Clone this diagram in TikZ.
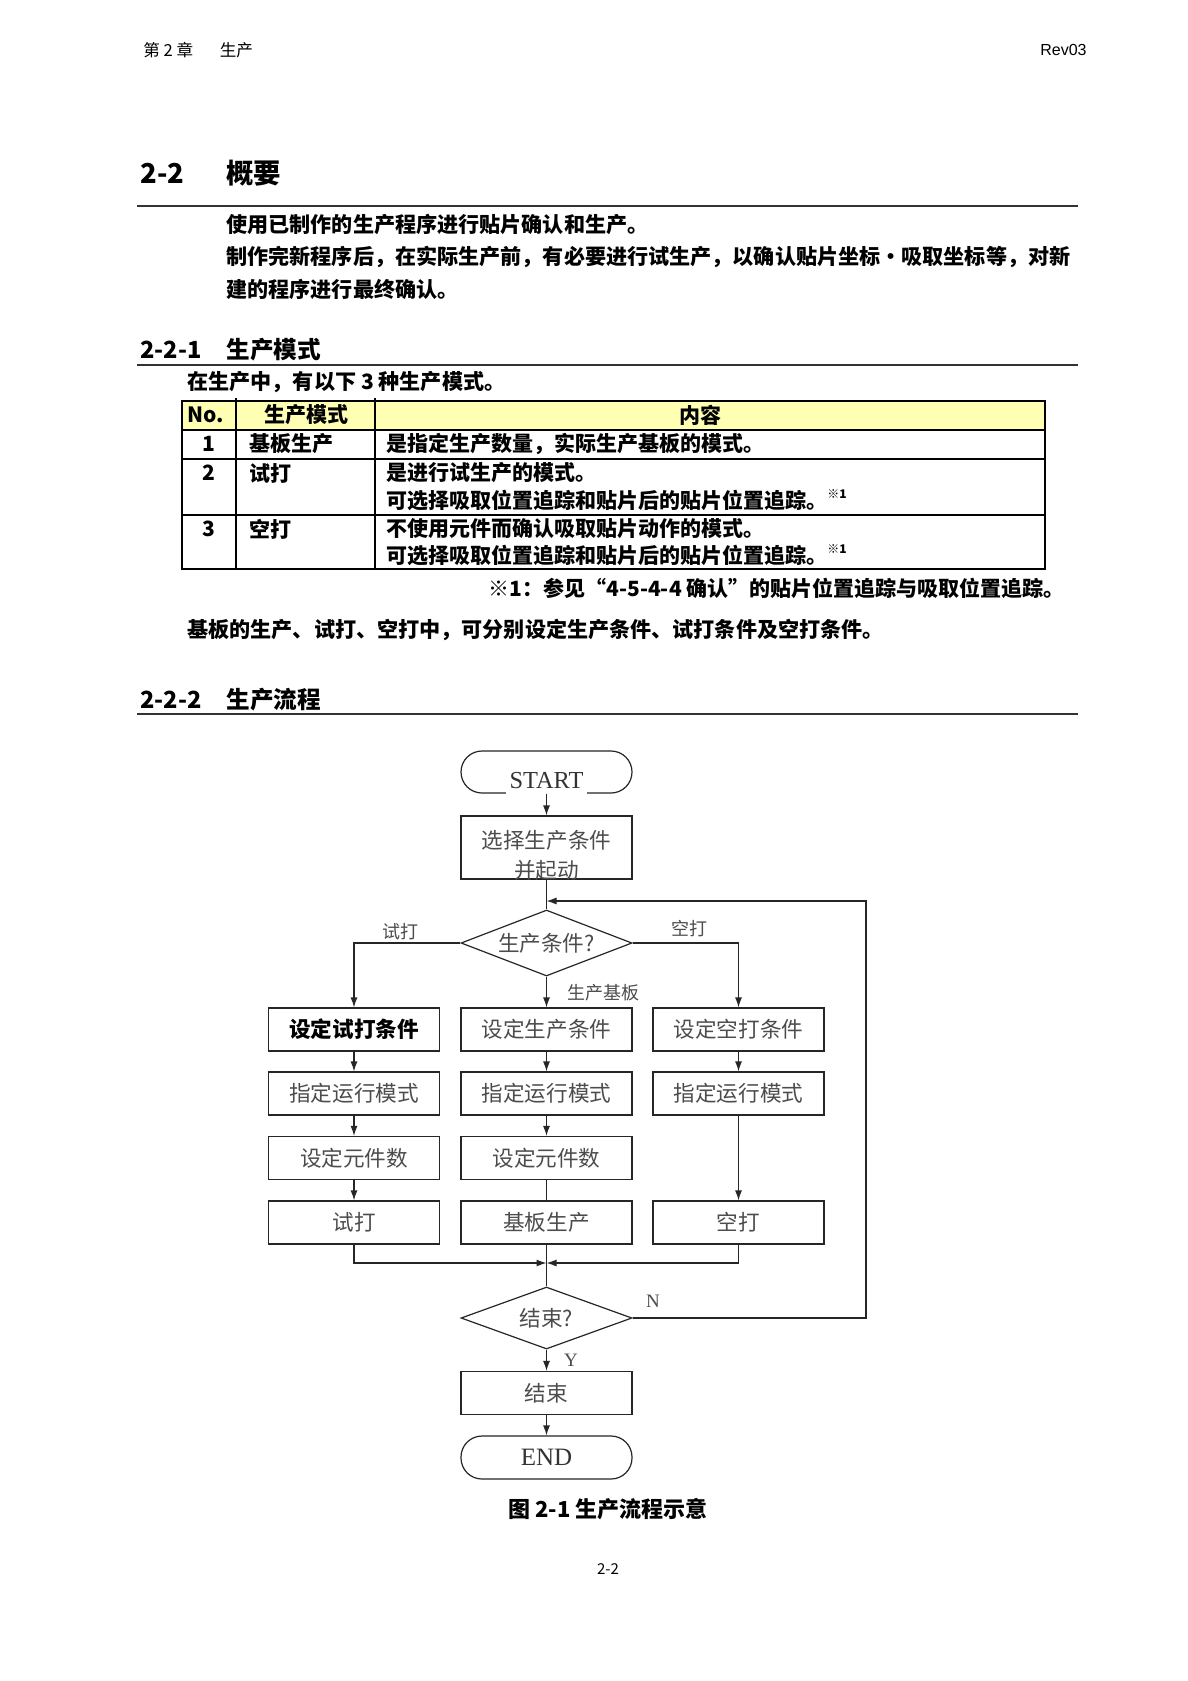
\documentclass[tikz,border=0pt]{standalone}
\usepackage{fontspec}
\setmainfont{Noto Sans CJK SC}
\newfontfamily\serifen{Liberation Serif}
\newfontfamily\sansen{Liberation Sans}
\usetikzlibrary{arrows.meta,shapes.geometric}
\definecolor{hdryellow}{HTML}{FFFFB4}
\begin{document}
\begin{tikzpicture}[x=0.5pt,y=-0.5pt,
  fbox/.style={draw=black!85, line width=0.6pt, minimum width=85.5pt, minimum height=21.5pt, inner sep=0pt},
  ftxt/.style={font=\fontsize{10.8pt}{12pt}\selectfont, text=black!70, inner sep=0pt},
  term/.style={fbox, rounded corners=10.5pt},
  dec/.style={diamond, draw=black!85, line width=0.6pt, aspect=2.6, minimum width=85.5pt, inner sep=0pt, font=\fontsize{10.8pt}{12pt}\selectfont, text=black!70},
  arr/.style={-{Latex[length=5pt,width=3.5pt]}, line width=0.6pt, draw=black!85},
  ln/.style={line width=0.6pt, draw=black!85},
  lbl/.style={font=\fontsize{9pt}{10pt}\selectfont, text=black!70, inner sep=0pt},
  body/.style={anchor=west, font=\bfseries\fontsize{10.55pt}{13pt}\selectfont, inner sep=0pt},
  tb/.style={anchor=west, font=\bfseries\fontsize{10.5pt}{12pt}\selectfont, inner sep=0pt},
  hd/.style={anchor=west, font=\bfseries\fontsize{13.7pt}{15pt}\selectfont, inner sep=0pt},
  hdb/.style={anchor=west, font=\bfseries\fontsize{11.8pt}{13pt}\selectfont, inner sep=0pt},
  rule/.style={line width=0.8pt, draw=black!80},
  supm/.style={}]
\fill[white] (0,0) rectangle (1188,1681);
\useasboundingbox (0,0) rectangle (1188,1681);

% page header
\node[anchor=west, inner sep=0pt, font=\fontsize{8.3pt}{9pt}\selectfont] (hl) at (143,50) {第 2 章\hspace{1.6em}生产};
\node[anchor=east, inner sep=0pt, font=\sansen\fontsize{8pt}{9pt}\selectfont] (hr) at (1087,50) {Rev03};

% section 2-2
\node[hd] (s1a) at (140,173) {2-2};
\node[hd] (s1b) at (226,173) {概要};
\draw[rule] (137,206) -- (1078,206);
\node[body] (p1) at (226,225) {使用已制作的生产程序进行贴片确认和生产。};
\node[body] (p2) at (226,257) {制作完新程序后，在实际生产前，有必要进行试生产，以确认贴片坐标・吸取坐标等，对新};
\node[body] (p3) at (226,289) {建的程序进行最终确认。};

% section 2-2-1
\node[hdb] (s2a) at (140,350) {2-2-1};
\node[hdb] (s2b) at (226,350) {生产模式};
\draw[rule] (137,365) -- (1078,365);
\node[body] (p4) at (187,382) {在生产中，有以下 3 种生产模式。};

% table
\fill[hdryellow] (182,401) rectangle (1045,430);
\draw[line width=0.8pt] (182,401) rectangle (1045,569);
\draw[line width=1.1pt] (182,430) -- (1045,430);
\draw[line width=0.8pt] (182,459) -- (1045,459);
\draw[line width=0.8pt] (182,515) -- (1045,515);
\draw[line width=1.1pt] (182,569) -- (1045,569);
\draw[line width=0.8pt] (236,398) -- (236,569);
\draw[line width=0.8pt] (375,398) -- (375,569);
\node[tb, anchor=center] (th1) at (206,415) {No.};
\node[tb, anchor=center] (th2) at (306,415) {生产模式};
\node[tb, anchor=center] (th3) at (700,415) {内容};
\node[tb, anchor=center] (r1n) at (209,444) {1};
\node[tb] (r1m) at (249,444) {基板生产};
\node[tb] (r1c) at (386,444) {是指定生产数量，实际生产基板的模式。};
\node[tb, anchor=center] (r2n) at (209,473) {2};
\node[tb] (r2m) at (249,473) {试打};
\node[tb] (r2c) at (386,473) {是进行试生产的模式。};
\node[tb] (r2d) at (386,500) {可选择吸取位置追踪和贴片后的贴片位置追踪。\raisebox{0.9ex}{\fontsize{6pt}{7pt}\selectfont ※1}};
\node[tb, anchor=center] (r3n) at (209,529) {3};
\node[tb] (r3m) at (249,529) {空打};
\node[tb] (r3c) at (386,529) {不使用元件而确认吸取贴片动作的模式。};
\node[tb] (r3d) at (386,555) {可选择吸取位置追踪和贴片后的贴片位置追踪。\raisebox{0.9ex}{\fontsize{6pt}{7pt}\selectfont ※1}};
\node[tb, anchor=east] (fn) at (1065,588) {※1：参见“4-5-4-4 确认”的贴片位置追踪与吸取位置追踪。};
\node[body] (p5) at (187,630) {基板的生产、试打、空打中，可分别设定生产条件、试打条件及空打条件。};

% section 2-2-2
\node[hdb] (s3a) at (140,700) {2-2-2};
\node[hdb] (s3b) at (226,700) {生产流程};
\draw[rule] (137,714) -- (1078,714);

% flowchart
\node[term, minimum height=21pt] (start) at (546.5,772) {};
\node[fill=white, inner xsep=2pt, inner ysep=3pt, font=\serifen\fontsize{12.2pt}{13pt}\selectfont, text=black!80] (starttxt) at (546.5,781) {START};
\node[fbox, minimum height=31.5pt] (sel) at (546.5,847.5) {};
\node[ftxt] (selt1) at (546.5,840) {选择生产条件};
\node[ftxt] (selt2) at (546.5,870) {并起动};
\node[dec, minimum height=33pt] (d1) at (546.5,943) {生产条件?};

\node[fbox] (c11) at (354,1029.5) {};
\node[ftxt, font=\bfseries\fontsize{10.8pt}{12pt}\selectfont, text=black] (c11t) at (354,1029.5) {设定试打条件};
\node[fbox, ftxt] (c12) at (354,1093.5) {指定运行模式};
\node[fbox, ftxt] (c13) at (354,1158) {设定元件数};
\node[fbox, ftxt] (c14) at (354,1222.5) {试打};

\node[fbox, ftxt] (c21) at (546.5,1029.5) {设定生产条件};
\node[fbox, ftxt] (c22) at (546.5,1093.5) {指定运行模式};
\node[fbox, ftxt] (c23) at (546.5,1158) {设定元件数};
\node[fbox, ftxt] (c24) at (546.5,1222.5) {基板生产};

\node[fbox, ftxt] (c31) at (738.5,1029.5) {设定空打条件};
\node[fbox, ftxt] (c32) at (738.5,1093.5) {指定运行模式};
\node[fbox, ftxt] (c34) at (738.5,1222.5) {空打};

\node[dec, minimum height=31pt] (d2) at (546.5,1318) {结束?};
\node[fbox, ftxt] (endb) at (546.5,1393) {结束};
\node[term, ftxt, font=\serifen\fontsize{12.5pt}{13pt}\selectfont, text=black!80] (endt) at (546.5,1457.5) {END};

% connectors
\draw[arr] (start.south) -- (sel.north);
\draw[ln] (sel.south) -- (d1.north);
\coordinate (bL) at (354,943);
\coordinate (bR) at (738.5,943);
\draw[arr] (d1.west) -- (bL) -- (c11.north);
\draw[arr] (d1.east) -- (bR) -- (c31.north);
\draw[arr] (d1.south) -- (c21.north);
\node[lbl] (lb1) at (400,932) {试打};
\node[lbl] (lb2) at (689,929) {空打};
\node[lbl] (lb3) at (603,993) {生产基板};

\draw[arr] (c11.south) -- (c12.north);
\draw[arr] (c12.south) -- (c13.north);
\draw[arr] (c13.south) -- (c14.north);
\draw[arr] (c21.south) -- (c22.north);
\draw[arr] (c22.south) -- (c23.north);
\draw[ln] (c23.south) -- (c24.north);
\draw[arr] (c31.south) -- (c32.north);
\draw[arr] (c32.south) -- (c34.north);

\coordinate (mL) at (354,1263);
\coordinate (mR) at (738.5,1263);
\coordinate (mC) at (546.5,1263);
\draw[arr] (c14.south) -- (mL) -- (mC);
\draw[arr] (c34.south) -- (mR) -- (mC);
\draw[ln] (c24.south) -- (d2.north);

\coordinate (lpR) at (866,1318);
\coordinate (lpT) at (866,901);
\coordinate (lpJ) at (546.5,901);
\draw[arr] (d2.east) -- (lpR) -- (lpT) -- (lpJ);
\node[lbl, font=\serifen\fontsize{9.5pt}{10pt}\selectfont] (lbN) at (653,1301) {N};
\node[lbl, font=\serifen\fontsize{9.5pt}{10pt}\selectfont] (lbY) at (571,1360) {Y};
\draw[arr] (d2.south) -- (endb.north);
\draw[arr] (endb.south) -- (endt.north);

\node[font=\bfseries\fontsize{11pt}{13pt}\selectfont, inner sep=0pt] (cap) at (608,1509) {图 2-1 生产流程示意};
\node[font=\fontsize{7.5pt}{9pt}\selectfont, inner sep=0pt] (pg) at (608,1569) {2-2};
\end{tikzpicture}
\end{document}
